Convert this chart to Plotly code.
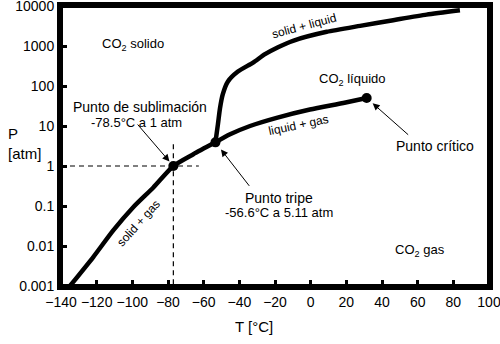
import math
import plotly.graph_objects as go

# Sublimation curve (solid + gas)
sub_T = [-135.0, -121.9, -110.7, -99.5, -88.2, -77.0, -65.8, -53.4]
sub_P = [0.001, 0.0053, 0.0245, 0.093, 0.29, 1.0, 1.97, 3.9]

# Vaporization curve (liquid + gas)
vap_T = [-53.4, -45.2, -34.0, -19.1, -0.4, 18.3, 31.4]
vap_P = [3.9, 6.2, 10.0, 16.0, 25.8, 37.6, 50.0]

# Melting curve (solid + liquid)
mel_T = [-53.4, -52.0, -50.85, -49.3, -46.4, -40.8, -32.3, -25.6, -18.3, -9.9, 9.0, 27.7, 46.3, 65.0, 83.7]
mel_P = [3.9, 11.1, 27.7, 61.8, 130, 230, 385, 625, 933, 1352, 2263, 3190, 4416, 6080, 7820]

# Special points: sublimation, triple, critical
pts_T = [-77.0, -53.4, 31.4]
pts_P = [1.0, 3.9, 50.0]

# Dashed guide lines
hguide_T = [-140, -62.7]
hguide_P = [1.0, 1.0]
vguide_T = [-77.0, -77.0]
vguide_P = [3.5, 0.001]

x_range = [-140, 100]
y_range_vals = [0.001, 10000]
x_ticks = [-140, -120, -100, -80, -60, -40, -20, 0, 20, 40, 60, 80, 100]
y_ticks = [0.001, 0.01, 0.1, 1, 10, 100, 1000, 10000]
y_ticktext = ["0.001", "0.01", "0.1", "1", "10", "100", "1000", "10000"]

FONT = "Liberation Sans, Arial, sans-serif"

fig = go.Figure()
for T, P in [(hguide_T, hguide_P), (vguide_T, vguide_P)]:
    fig.add_trace(go.Scatter(x=T, y=P, mode="lines",
                             line=dict(color="black", width=1.2, dash="5px,4px"),
                             hoverinfo="skip", showlegend=False))
for T, P in [(sub_T, sub_P), (vap_T, vap_P), (mel_T, mel_P)]:
    fig.add_trace(go.Scatter(x=T, y=P, mode="lines",
                             line=dict(color="black", width=4.5, shape="spline", smoothing=0.6),
                             showlegend=False))
fig.add_trace(go.Scatter(x=pts_T, y=pts_P, mode="markers",
                         marker=dict(color="black", size=10), showlegend=False))

ann = []
def txt(x, y, s, size=14, angle=0, xref="x", yref="y", xanchor="center"):
    ann.append(dict(x=x, y=y, text=s, showarrow=False, textangle=angle,
                    xref=xref, yref=yref, xanchor=xanchor, yanchor="middle",
                    font=dict(family=FONT, size=size, color="black")))

def ly(v):
    return math.log10(v)

txt(-95.7, ly(30.5), "Punto de sublimación", 14)
txt(-97.4, ly(12.5), "-78.5°C a 1 atm", 13)
txt(-17.8, ly(0.16), "Punto tripe", 14)
txt(-17.8, ly(0.068), "-56.6°C a 5.11 atm", 13)
txt(69.7, ly(3.16), "Punto crítico", 14)
txt(-99.6, ly(1076), "CO<sub>2</sub> solido", 13)
txt(23.2, ly(145.5), "CO<sub>2</sub> líquido", 13)
txt(61.3, ly(0.0078), "CO<sub>2</sub> gas", 13)
txt(-3.75, ly(3190), "solid + liquid", 12, -15)
txt(-6.6, ly(10.5), "liquid + gas", 12, -12)
txt(-96.3, ly(0.0366), "solid + gas", 12, -48)
txt(0.451, -0.145, "T [°C]", 15, 0, "paper", "paper")
txt(-0.1285, 0.546, "P", 15, 0, "paper", "paper", "left")
txt(-0.1285, 0.472, "[atm]", 15, 0, "paper", "paper", "left")

arrows = [(-77.0, 1.0, -37, -43, 6), (-53.4, 3.9, 35, 45, 9), (31.4, 50.0, 43, 38, 8)]
for x, y, ax, ay, so in arrows:
    ann.append(dict(x=x, y=ly(y), ax=ax, ay=ay, xref="x", yref="y", text="",
                    showarrow=True, arrowhead=2, arrowsize=1.4, arrowwidth=1,
                    arrowcolor="black", standoff=so))

axis_common = dict(showgrid=False, zeroline=False, showline=True, linewidth=4,
                   linecolor="black", mirror=True, ticks="inside", ticklen=6,
                   tickwidth=3, tickcolor="black", ticklabeloverflow="allow",
                   automargin=False,
                   tickfont=dict(family=FONT, size=14, color="black"))

fig.update_layout(
    width=500, height=344,
    margin=dict(l=61, r=11, t=6, b=58, autoexpand=False),
    paper_bgcolor="white", plot_bgcolor="white",
    xaxis=dict(range=x_range, tickvals=x_ticks, **axis_common),
    yaxis=dict(type="log", range=[ly(y_range_vals[0]), ly(y_range_vals[1])],
               tickvals=y_ticks, ticktext=y_ticktext, **axis_common),
    annotations=ann,
    shapes=[dict(type="rect", xref="paper", yref="paper", x0=0, x1=1, y0=0, y1=1,
                 line=dict(color="black", width=4), layer="above")],
)
fig.write_html("out.html")
